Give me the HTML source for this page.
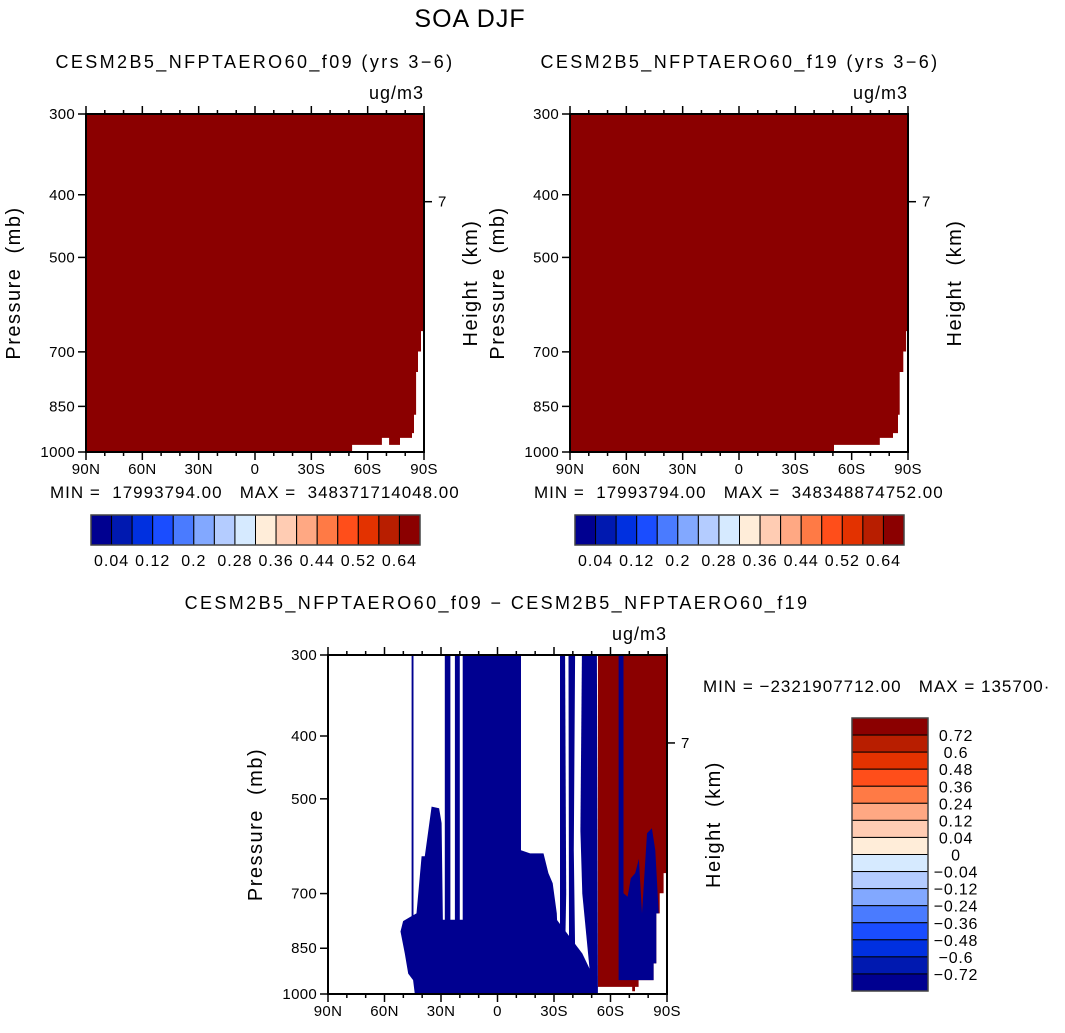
<!DOCTYPE html>
<html><head><meta charset="utf-8">
<style>
html,body{margin:0;padding:0;background:#fff;}
svg text{font-family:"Liberation Sans","DejaVu Sans",sans-serif;fill:#000;white-space:pre;}
</style></head>
<body>
<svg id="fig" width="1065" height="1028" viewBox="0 0 1065 1028" xmlns="http://www.w3.org/2000/svg">
<text x="470" y="27" font-size="25" letter-spacing="1" text-anchor="middle">SOA DJF</text>
</svg>
<script>
// ---- data ----
const latTicks = [-90,-60,-30,0,30,60,90];
const latTickLabels = ["90N","60N","30N","0","30S","60S","90S"];
const presTicks = [300,400,500,700,850,1000];
const presTickLabels = ["300","400","500","700","850","1000"];
const heightTickP = [410];
const heightTickLabels = ["7"];
const topCbarColors = ["#000090","#0019B0","#0030E0","#1A4DFF","#4A7BFF","#82A8FF","#B4CCFF","#D6EAFF","#FFEDD9","#FFCCB3","#FFA883","#FF7A45","#FF4E1A","#E33200","#B81E00","#8B0000"];
const topCbarLabels = ["0.04","0.12","0.2","0.28","0.36","0.44","0.52","0.64"];
const diffCbarLabels = ["0.72","0.6","0.48","0.36","0.24","0.12","0.04","0","\u22120.04","\u22120.12","\u22120.24","\u22120.36","\u22120.48","\u22120.6","\u22120.72"];
// filled regions as [lat(S positive), pressure] vertices
const f09Field = [[-90,300],[90,300],[90,650],[88.4,650],[88.4,699],[86.8,699],[86.8,752],[85.8,752],[85.8,876],[84.7,876],[84.7,935],[83.6,935],[83.6,951],[77.2,951],[77.2,975],[71.4,975],[71.4,951],[67.6,951],[67.6,975],[51.7,975],[51.7,1000],[-90,1000]];
const f19Field = [[-90,300],[90,300],[90,650],[89,650],[89,699],[87.5,699],[87.5,752],[85.6,752],[85.6,876],[84.7,876],[84.7,935],[82,935],[82,951],[75,951],[75,975],[50.6,975],[50.6,1000],[-90,1000]];
const diffPos = [
  [[53.3,300],[90,300],[90,651],[88.2,651],[88.2,699],[86.1,699],[86.1,751],[84.3,751],[84.3,897],[82.9,897],[82.9,952],[74.9,952],[74.9,975],[73,975],[73,990],[71.5,990],[71.5,975],[53.3,975]]
];
const diffNeg = [
  [[-45.6,300],[-44.6,300],[-44.6,780],[-45.6,780]],
  [[-28,300],[-25,300],[-25,1000],[-28,1000]],
  [[-22.6,300],[-20,300],[-20,1000],[-22.6,1000]],
  [[-18.5,300],[12.5,300],[12.5,1000],[-18.5,1000]],
  [[-51.5,801],[-50.1,772],[-46.2,760],[-43,751],[-40.3,613],[-38.6,613],[-35,514],[-31,517],[-29.7,545],[-28.8,866],[-27.9,1000],[-43.9,1000],[-44.8,952],[-47.4,930],[-49.2,866]],
  [[-29.7,768],[31.5,768],[45,866],[50.1,930],[53.3,975],[53.3,1000],[-29.7,1000]],
  [[12.5,600],[17.3,607],[24.4,607],[27,651],[29.3,675],[31.5,751],[33.2,1000],[12.5,1000]],
  [[33.2,300],[35.9,300],[36.5,700],[35.5,1000],[33.2,1000]],
  [[37.7,300],[41.2,300],[40.5,600],[41.5,1000],[38,1000]],
  [[44.8,300],[52.8,300],[53.3,975],[50,990],[45,700],[44,560]],
  [[64.3,300],[66.9,300],[66.9,952],[64.3,952]],
  [[66.9,699],[69.1,708],[70.8,663],[73.1,651],[75.1,619],[76.7,751],[79.4,565],[82,555],[83.8,600],[85.6,751],[84.3,751],[84.3,897],[82.9,897],[82.9,952],[66.9,952]]
];
// ---- drawing ----
const svg = document.getElementById('fig');
const NS = 'http://www.w3.org/2000/svg';
function mk(tag, attrs, parent){const e=document.createElementNS(NS,tag);for(const k in attrs)e.setAttribute(k,attrs[k]);(parent||svg).appendChild(e);return e;}
function txt(s,x,y,size,anchor,parent,ls){const t=mk('text',{x:x,y:y,'font-size':size,'text-anchor':anchor||'start','letter-spacing':ls||0},parent);t.textContent=s;return t;}

function panel(name, x0, y0, w, h, title, titleX, min, minX, regions){
  const g = mk('g',{});
  
  
  const X = v => x0 + (v+90)/180*w;
  const Y = p => y0 + (Math.log10(p)-Math.log10(300))/(Math.log10(1000)-Math.log10(300))*h;
  const clipId = name+'-clip';
  const cp = mk('clipPath',{id:clipId},g); mk('rect',{x:x0,y:y0,width:w,height:h},cp);
  const fg = mk('g',{'clip-path':'url(#'+clipId+')'},g);
  regions.forEach(r=>{
    r.data.forEach(poly=>{
      const p = mk('polygon',{points:poly.map(q=>X(q[0]).toFixed(1)+','+Y(q[1]).toFixed(1)).join(' '),fill:r.color},fg);
      
      
    });
  });
  const fr = mk('rect',{x:x0,y:y0,width:w,height:h,fill:'none',stroke:'#000','stroke-width':2},g);
  
  
  for(let v=-90; v<=90; v+=10){
    const major = latTicks.includes(v);
    const L = major?8:4;
    mk('line',{x1:X(v),x2:X(v),y1:y0+h,y2:y0+h+L,stroke:'#000','stroke-width':1.5},g);
    mk('line',{x1:X(v),x2:X(v),y1:y0,y2:y0-L,stroke:'#000','stroke-width':1.5},g);
  }
  latTicks.forEach((v,i)=>{const t=txt(latTickLabels[i],X(v),y0+h+22,15,'middle',g,0.3);
    
    });
  presTicks.forEach((p,i)=>{
    mk('line',{x1:x0-8,x2:x0,y1:Y(p),y2:Y(p),stroke:'#000','stroke-width':1.5},g);
    const t=txt(presTickLabels[i],x0-11,Y(p)+5,15,'end',g,0.3);
    
    
  });
  heightTickP.forEach((p,i)=>{
    mk('line',{x1:x0+w,x2:x0+w+8,y1:Y(p),y2:Y(p),stroke:'#000','stroke-width':1.5},g);
    const t=txt(heightTickLabels[i],x0+w+14,Y(p)+5,15,'start',g);
    
    
  });
  const yt = txt('Pressure  (mb)',0,0,20,'middle',g,1.5);
  yt.setAttribute('transform','translate('+(x0-66)+','+(y0+h/2)+') rotate(-90)');
  
  
  const ht = txt('Height  (km)',0,0,20,'middle',g,1.5);
  ht.setAttribute('transform','translate('+(x0+w+53)+','+(y0+h/2)+') rotate(-90)');
  
  
  const tt = txt(title,titleX,y0-46,18,'middle',g,2.4);
  
  
  const ut = txt('ug/m3',x0+w,y0-15,18,'end',g,1);
  
  
  if(min){const mt = txt(min,minX[0],minX[1],17,'start',g,1.0);
    
    }
  return g;
}

panel('panel-f09',86,114,338,338,'CESM2B5_NFPTAERO60_f09 (yrs 3\u22126)',255,
  'MIN =  17993794.00   MAX =  348371714048.00',[50,498],[{data:[f09Field],color:'#8B0000',label:'field-fill'}]);
panel('panel-f19',570,114,338,338,'CESM2B5_NFPTAERO60_f19 (yrs 3\u22126)',740,
  'MIN =  17993794.00   MAX =  348348874752.00',[534,498],[{data:[f19Field],color:'#8B0000',label:'field-fill'}]);
panel('panel-diff',328,655,339,339,'CESM2B5_NFPTAERO60_f09 \u2212 CESM2B5_NFPTAERO60_f19',497,
  'MIN = \u22122321907712.00   MAX = 135700\u00b7',[703,692],
  [{data:diffPos,color:'#8B0000',label:'positive-diff-region'},{data:diffNeg,color:'#000090',label:'negative-diff-region'}]);

function hbar(name,x0,y0,w,h){
  const g=mk('g',{});
  
  
  const bw=w/topCbarColors.length;
  topCbarColors.forEach((c,i)=>{const r=mk('rect',{x:x0+i*bw,y:y0,width:bw,height:h,fill:c,stroke:'#000','stroke-width':1},g);
    
    });
  mk('rect',{x:x0,y:y0,width:w,height:h,fill:'none',stroke:'#444','stroke-width':1.5},g);
  topCbarLabels.forEach((s,i)=>{const t=txt(s,x0+(2*i+1)*bw,y0+h+21,16,'middle',g,1);
    
    });
}
hbar('colorbar-f09',91,515,329,30);
hbar('colorbar-f19',575,515,329,30);

(function(){
  const x0=852,y0=718,w=76,h=273;
  const g=mk('g',{});
  
  
  const n=topCbarColors.length, bh=h/n;
  topCbarColors.forEach((c,i)=>{const r=mk('rect',{x:x0,y:y0+i*bh,width:w,height:bh,fill:topCbarColors[n-1-i],stroke:'#000','stroke-width':1},g);
    
    });
  mk('rect',{x:x0,y:y0,width:w,height:h,fill:'none',stroke:'#444','stroke-width':1.5},g);
  diffCbarLabels.forEach((s,i)=>{const t=txt(s,x0+w+28,y0+(i+1)*bh+6,16,'middle',g,0.8);
    
    });
})();
</script>
</body></html>
